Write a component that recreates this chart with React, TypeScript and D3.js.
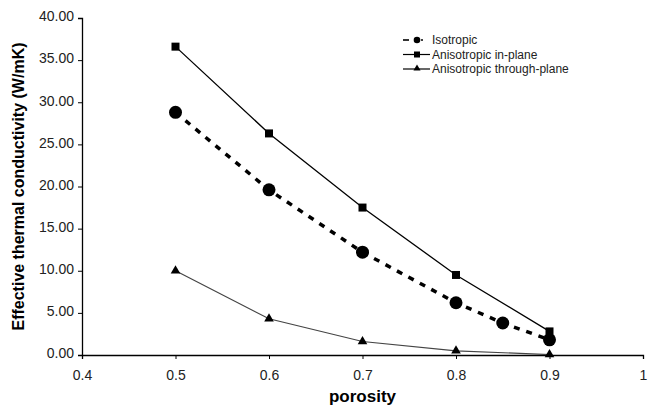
import React, { useEffect, useRef } from 'react'
import * as d3 from 'd3'

// porosity values for each series
const isoPorosity = [0.5, 0.6, 0.7, 0.8, 0.85, 0.9]
const isoValues = [28.8, 19.6, 12.2, 6.2, 3.8, 1.8]

const anisoPorosity = [0.5, 0.6, 0.7, 0.8, 0.9]
const inPlaneValues = [36.6, 26.3, 17.5, 9.5, 2.8]
const throughPlaneValues = [10.0, 4.3, 1.6, 0.5, 0.05]

const xTicks = [0.4, 0.5, 0.6, 0.7, 0.8, 0.9, 1]
const yTicks = [0, 5, 10, 15, 20, 25, 30, 35, 40]
const legendLabels = ['Isotropic', 'Anisotropic in-plane', 'Anisotropic through-plane']

const App = () => {
    const ref = useRef<SVGSVGElement>(null)

    useEffect(() => {
        const svg = d3.select(ref.current)
        svg.selectAll('*').remove()

        const width = 648, height = 410
        const margin = { top: 18, right: 5, bottom: 55, left: 82 }
        const font = 'Liberation Sans, Arial, sans-serif'

        const x = d3.scaleLinear().domain([0.4, 1]).range([margin.left, 643])
        const y = d3.scaleLinear().domain([0, 40]).range([height - margin.bottom, margin.top])

        // axes
        const xAxis = svg.append('g')
            .attr('transform', `translate(0,${y(0)})`)
            .call(d3.axisBottom(x).tickValues(xTicks).tickSize(4).tickFormat(d => d3.format('')(d as number)))
        const yAxis = svg.append('g')
            .attr('transform', `translate(${x(0.4)},0)`)
            .call(d3.axisLeft(y).tickValues(yTicks).tickSize(4).tickFormat(d => (d as number).toFixed(2)))

        for (const ax of [xAxis, yAxis]) {
            ax.select('.domain').attr('stroke', '#000').attr('stroke-width', 1.3)
            ax.selectAll('.tick line').attr('stroke', '#000')
            ax.selectAll('.tick text').attr('fill', '#222').style('font-family', font).style('font-size', '14px')
        }
        xAxis.selectAll('.tick text').attr('dy', '1.25em')
        yAxis.selectAll('.tick text').attr('dx', '-1px').attr('dy', '0.2em')

        // axis titles
        svg.append('text')
            .attr('x', (x(0.4) + x(1)) / 2)
            .attr('y', 402)
            .attr('text-anchor', 'middle')
            .style('font-family', font).style('font-size', '17px').style('font-weight', 'bold')
            .text('porosity')
        svg.append('text')
            .attr('transform', `translate(24,${(y(0) + y(40)) / 2}) rotate(-90)`)
            .attr('text-anchor', 'middle')
            .style('font-family', font).style('font-size', '16px').style('font-weight', 'bold')
            .text('Effective thermal conductivity (W/mK)')

        const line = d3.line<[number, number]>().x(d => x(d[0])).y(d => y(d[1]))

        const iso: [number, number][] = isoPorosity.map((p, i) => [p, isoValues[i]])
        const inPlane: [number, number][] = anisoPorosity.map((p, i) => [p, inPlaneValues[i]])
        const through: [number, number][] = anisoPorosity.map((p, i) => [p, throughPlaneValues[i]])

        // through-plane
        svg.append('path').attr('d', line(through)).attr('fill', 'none')
            .attr('stroke', '#444').attr('stroke-width', 1.2)
        svg.selectAll('.tri').data(through).join('path')
            .attr('transform', d => `translate(${x(d[0])},${y(d[1])})`)
            .attr('d', d3.symbol(d3.symbolTriangle, 40)())
            .attr('fill', '#000')

        // in-plane
        svg.append('path').attr('d', line(inPlane)).attr('fill', 'none')
            .attr('stroke', '#000').attr('stroke-width', 1.3)
        svg.selectAll('.sq').data(inPlane).join('rect')
            .attr('x', d => x(d[0]) - 4).attr('y', d => y(d[1]) - 4)
            .attr('width', 8).attr('height', 8).attr('fill', '#000')

        // isotropic
        svg.append('path').attr('d', line(iso)).attr('fill', 'none')
            .attr('stroke', '#000').attr('stroke-width', 3.5).attr('stroke-dasharray', '6,7')
        svg.selectAll('.circ').data(iso).join('circle')
            .attr('cx', d => x(d[0])).attr('cy', d => y(d[1])).attr('r', 6.5).attr('fill', '#000')

        // legend
        const lg = svg.append('g').attr('transform', 'translate(403,40)')
        legendLabels.forEach((label, i) => {
            const row = lg.append('g').attr('transform', `translate(0,${i * 14.5})`)
            if (i === 0) {
                row.append('line').attr('x1', 0).attr('x2', 6).attr('stroke', '#000').attr('stroke-width', 1.6)
                row.append('circle').attr('cx', 14).attr('r', 3.3).attr('fill', '#000')
                row.append('line').attr('x1', 18).attr('x2', 20).attr('stroke', '#000').attr('stroke-width', 1.6)
            } else {
                row.append('line').attr('x1', 0).attr('x2', 27).attr('stroke', '#000').attr('stroke-width', 1.2)
                if (i === 1) {
                    row.append('rect').attr('x', 11).attr('y', -3).attr('width', 6).attr('height', 6).attr('fill', '#000')
                } else {
                    row.append('path').attr('transform', 'translate(14,-0.5)')
                        .attr('d', d3.symbol(d3.symbolTriangle, 22)()).attr('fill', '#000')
                }
            }
            row.append('text').attr('x', 29).attr('y', 4)
                .style('font-family', font).style('font-size', '12px').attr('fill', '#222')
                .text(label)
        })
    }, [])

    return (
        <svg ref={ref} width={648} height={410} style={{ position: 'absolute', left: 0, top: 0, background: '#fff' }} />
    )
}

export default App
